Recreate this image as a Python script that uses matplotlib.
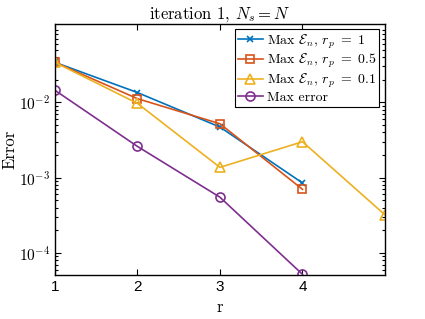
import math
import matplotlib
matplotlib.use("Agg")
import matplotlib.pyplot as plt
from matplotlib.ticker import FixedLocator, LogLocator, FuncFormatter

plt.rcParams['mathtext.fontset'] = 'cm'
plt.rcParams['font.family'] = ['Liberation Sans', 'DejaVu Sans']

r = [1, 2, 3, 4, 5]
err_rp1 = [0.034, 0.0135, 0.0047, 0.00085]
err_rp05 = [0.034, 0.0112, 0.0052, 0.00070]
err_rp01 = [0.034, 0.0097, 0.00137, 0.0030, 0.00032]
max_error = [0.0145, 0.0026, 0.00055, 0.000052]

labels = [r'Max $\mathcal{E}_n$, $r_p\ =\ 1$', r'Max $\mathcal{E}_n$, $r_p\ =\ 0.5$',
          r'Max $\mathcal{E}_n$, $r_p\ =\ 0.1$', 'Max error']
colors = ['#0072BD', '#D95319', '#EDB120', '#7E2F8E']

fig = plt.figure(figsize=(4.25, 3.19), dpi=100)
ax = fig.add_axes([0.129, 0.138, 0.777, 0.787])

ax.semilogy(r[:4], err_rp1, '-x', color=colors[0], lw=1.2, ms=5, mew=1.2, label=labels[0])
ax.semilogy(r[:4], err_rp05, '-s', color=colors[1], lw=1.2, ms=5.5, mfc='none', mew=1.2, label=labels[1])
ax.semilogy(r, err_rp01, '-^', color=colors[2], lw=1.2, ms=6.5, mfc='none', mew=1.2, label=labels[2])
ax.semilogy(r[:4], max_error, '-o', color=colors[3], lw=1.2, ms=6.5, mfc='none', mew=1.2, label=labels[3])

ax.set_xlim(1, 5)
ax.set_ylim(5.1e-5, 0.11)
ax.xaxis.set_major_locator(FixedLocator([1, 2, 3, 4]))
ax.yaxis.set_major_locator(FixedLocator([1e-4, 1e-3, 1e-2]))
ax.yaxis.set_minor_locator(LogLocator(base=10, subs=range(2, 10), numticks=20))
ax.yaxis.set_major_formatter(FuncFormatter(lambda v, p: r'$\mathsf{10^{%d}}$' % round(math.log10(v))))
ax.tick_params(direction='in', which='both', top=True, right=True, labelsize=11, width=0.8)
ax.tick_params(which='major', length=4)
ax.tick_params(which='minor', length=2)
for s in ax.spines.values():
    s.set_linewidth(1.0)

ax.set_xlabel('r', family='cmr10', fontsize=12)
ax.set_ylabel('Error', family='cmr10', fontsize=12, labelpad=1)
ax.set_title(r'iteration 1, $N_s = N$', family='cmr10', fontsize=12, pad=4)

leg = ax.legend(loc='upper right', fancybox=False, edgecolor='black',
                borderpad=0.2, labelspacing=0.1, handlelength=1.8, handletextpad=0.3,
                borderaxespad=0.4, framealpha=1, prop={'family': 'cmr10', 'size': 10})
leg.get_frame().set_linewidth(0.8)

fig.savefig('out.png', dpi=100)
